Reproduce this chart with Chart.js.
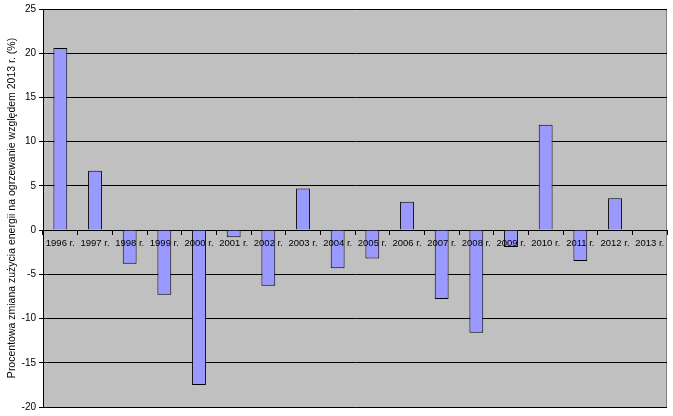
<!DOCTYPE html>
<html>
<head>
<meta charset="utf-8">
<script src="https://cdn.jsdelivr.net/npm/chart.js@4/dist/chart.umd.min.js"></script>
<style>
  html, body { margin: 0; padding: 0; background: #fff; }
  #wrap { width: 673px; height: 416px; }
</style>
</head>
<body>
<div id="wrap"><canvas id="c"></canvas></div>
<script>
// years on the category axis
const years = ['1996 r.', '1997 r.', '1998 r.', '1999 r.', '2000 r.', '2001 r.',
  '2002 r.', '2003 r.', '2004 r.', '2005 r.', '2006 r.', '2007 r.', '2008 r.',
  '2009 r.', '2010 r.', '2011 r.', '2012 r.', '2013 r.'];

// percent change vs 2013
const changePct = [20.6, 6.7, -3.8, -7.3, -17.5, -0.8, -6.3, 4.7, -4.3, -3.2,
  3.2, -7.8, -11.6, -1.9, 11.9, -3.5, 3.6, 0];

const yTicks = [25, 20, 15, 10, 5, 0, -5, -10, -15, -20];

// grey plot area with a grey frame, like the old Excel charts
const plotBg = {
  id: 'plotBg',
  beforeDraw(chart) {
    const a = chart.chartArea, ctx = chart.ctx;
    ctx.save();
    ctx.fillStyle = '#C0C0C0';
    ctx.fillRect(a.left, a.top, a.right - a.left, a.bottom - a.top);
    ctx.strokeStyle = '#808080';
    ctx.lineWidth = 1;
    ctx.strokeRect(a.left + 0.5, a.top + 0.5, a.right - a.left - 1, a.bottom - a.top);
    ctx.restore();
  }
};

new Chart(document.getElementById('c'), {
  type: 'bar',
  data: {
    labels: years,
    datasets: [{
      data: changePct,
      backgroundColor: '#9999FF',
      borderColor: '#000000',
      borderWidth: 1,
      barPercentage: 0.4,
      categoryPercentage: 1
    }]
  },
  options: {
    responsive: true,
    maintainAspectRatio: false,
    animation: false,
    layout: { padding: { top: 7, right: 6, bottom: 9, left: 0 } },
    plugins: { legend: { display: false }, tooltip: { enabled: false } },
    scales: {
      x: {
        position: { y: 0 },
        grid: { drawOnChartArea: false, drawTicks: true, tickLength: 4, color: '#000', offset: true },
        border: { color: '#000', width: 1 },
        ticks: {
          z: 1, // labels sit on top of the bars
          color: '#000', maxRotation: 0, autoSkip: false, padding: 4,
          font: { family: 'Liberation Sans, Arial, sans-serif', size: 9.5 }
        }
      },
      y: {
        min: -20,
        max: 25,
        afterBuildTicks: s => { s.ticks = yTicks.map(v => ({ value: v })); },
        afterFit: s => { s.width = 43; },
        grid: { color: '#000', lineWidth: 1, tickLength: 4, drawTicks: true },
        border: { color: '#000', width: 1 },
        ticks: {
          color: '#000', padding: 3,
          font: { family: 'Liberation Sans, Arial, sans-serif', size: 10 }
        },
        title: {
          display: true,
          text: 'Procentowa zmiana zużycia energii na ogrzewanie względem 2013 r. (%)',
          color: '#000',
          padding: { top: 6, bottom: 0 },
          font: { family: 'Liberation Sans, Arial, sans-serif', size: 10.5 }
        }
      }
    }
  },
  plugins: [plotBg]
});
</script>
</body>
</html>
